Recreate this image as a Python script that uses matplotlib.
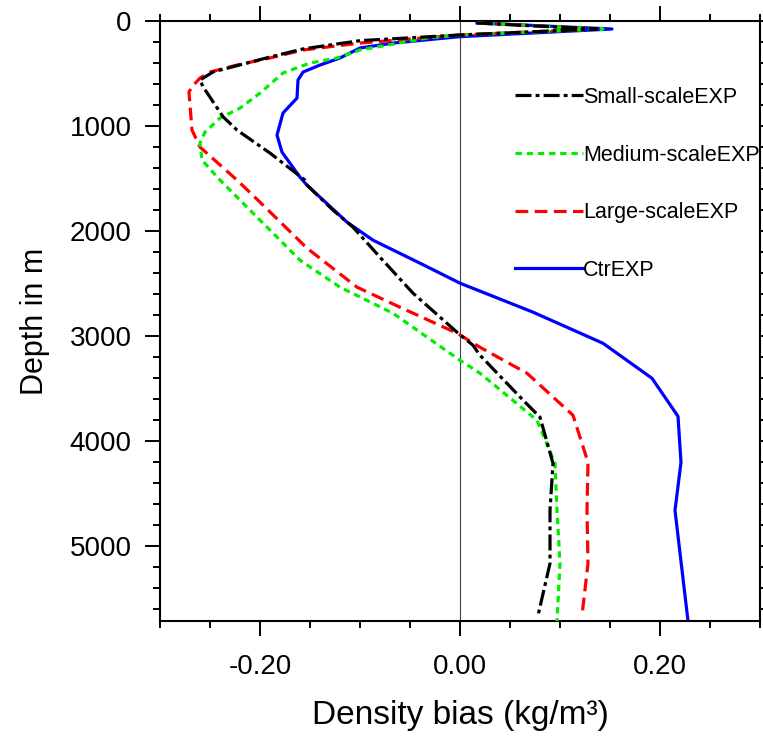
import numpy as np
import matplotlib
matplotlib.use("Agg")
import matplotlib.pyplot as plt
from matplotlib.ticker import MultipleLocator

plt.rcParams['font.family'] = ['Liberation Sans', 'DejaVu Sans']

# profiles: (depth in m, density bias in kg/m3)
small_depth = [19, 76, 133, 187, 266, 350, 485, 562, 625, 911, 1038, 1257, 1514,
               1562, 1800, 1962, 2248, 2590, 2962, 3086, 3181, 3627, 3770, 4210,
               4657, 5162, 5657]
small_bias = [0.017, 0.137, 0.0, -0.1, -0.157, -0.193, -0.247, -0.26, -0.257,
              -0.237, -0.223, -0.19, -0.155, -0.153, -0.127, -0.107, -0.08, -0.047,
              -0.003, 0.013, 0.02, 0.065, 0.08, 0.093, 0.09, 0.09, 0.078]

medium_depth = [19, 76, 133, 162, 276, 352, 400, 495, 686, 829, 924, 1057, 1162,
                1324, 1514, 1895, 2276, 2533, 2781, 3229, 3352, 3627, 3800, 4210,
                4657, 5162, 5710]
medium_bias = [0.017, 0.143, 0.0, -0.033, -0.1, -0.123, -0.15, -0.177, -0.2,
               -0.22, -0.24, -0.255, -0.26, -0.258, -0.24, -0.2, -0.16, -0.12,
               -0.067, 0.0, 0.02, 0.055, 0.077, 0.095, 0.097, 0.1, 0.097]

large_depth = [19, 76, 133, 210, 276, 352, 419, 486, 543, 625, 676, 1038, 1200,
               1514, 1724, 2162, 2533, 2724, 2971, 3105, 3352, 3752, 4200, 4657,
               5162, 5657]
large_bias = [0.017, 0.137, 0.0, -0.1, -0.157, -0.19, -0.223, -0.25, -0.26,
              -0.268, -0.271, -0.268, -0.26, -0.223, -0.2, -0.153, -0.103, -0.06,
              -0.003, 0.02, 0.067, 0.113, 0.128, 0.127, 0.128, 0.122]

ctr_depth = [19, 76, 149, 210, 257, 352, 419, 486, 562, 733, 876, 1086, 1248,
             1486, 1562, 1914, 2086, 2305, 2495, 2771, 3067, 3400, 3762, 4200,
             4657, 5710]
ctr_bias = [0.017, 0.152, 0.0, -0.067, -0.1, -0.12, -0.14, -0.157, -0.162,
            -0.163, -0.177, -0.183, -0.178, -0.16, -0.153, -0.113, -0.087, -0.04,
            0.0, 0.073, 0.143, 0.192, 0.218, 0.221, 0.215, 0.228]

labels = ["Small-scaleEXP", "Medium-scaleEXP", "Large-scaleEXP", "CtrEXP"]

fig = plt.figure(figsize=(7.63, 7.36), dpi=100)
ax = fig.add_axes([160 / 763, 115 / 736, 600 / 763, 600 / 736])

lw = 2.3
ax.axvline(0, color="#444444", lw=0.8, zorder=1)
l_ctr, = ax.plot(ctr_bias, ctr_depth, color="#0000ff", lw=lw, zorder=2)
l_large, = ax.plot(large_bias, large_depth, color="#ff0000", lw=lw,
                   dashes=(4.0, 2.0), zorder=3)
l_med, = ax.plot(medium_bias, medium_depth, color="#00ee00", lw=lw,
                 dashes=(2.0, 1.5), zorder=4)
l_small, = ax.plot(small_bias, small_depth, color="black", lw=lw,
                   dashes=(5.0, 1.3, 1.2, 1.3), zorder=5)

ax.set_xlim(-0.3, 0.3)
ax.set_ylim(5710, 0)
ax.xaxis.set_major_locator(MultipleLocator(0.2))
ax.xaxis.set_minor_locator(MultipleLocator(0.05))
ax.yaxis.set_major_locator(MultipleLocator(1000))
ax.yaxis.set_minor_locator(MultipleLocator(200))
ax.set_xticks([-0.2, 0.0, 0.2], ["-0.20", "0.00", "0.20"])

ax.tick_params(which="both", direction="out", top=True, right=True, width=1.4,
               labelsize=20)
ax.tick_params(which="major", length=11, pad=13)
ax.tick_params(axis="y", which="major", pad=9.5)
ax.tick_params(which="minor", length=5)
for s in ax.spines.values():
    s.set_linewidth(1.5)

ax.set_xlabel("Density bias (kg/m³)", fontsize=24, labelpad=14)
ax.set_ylabel("Depth in m", fontsize=22, labelpad=14)

ax.legend([l_small, l_med, l_large, l_ctr], labels, loc="upper left",
          bbox_to_anchor=(0.592, 0.89), frameon=False, fontsize=15.5,
          handlelength=3.15, handletextpad=0.0, labelspacing=1.7,
          borderpad=0, borderaxespad=0)

fig.savefig("out.png", dpi=100)
